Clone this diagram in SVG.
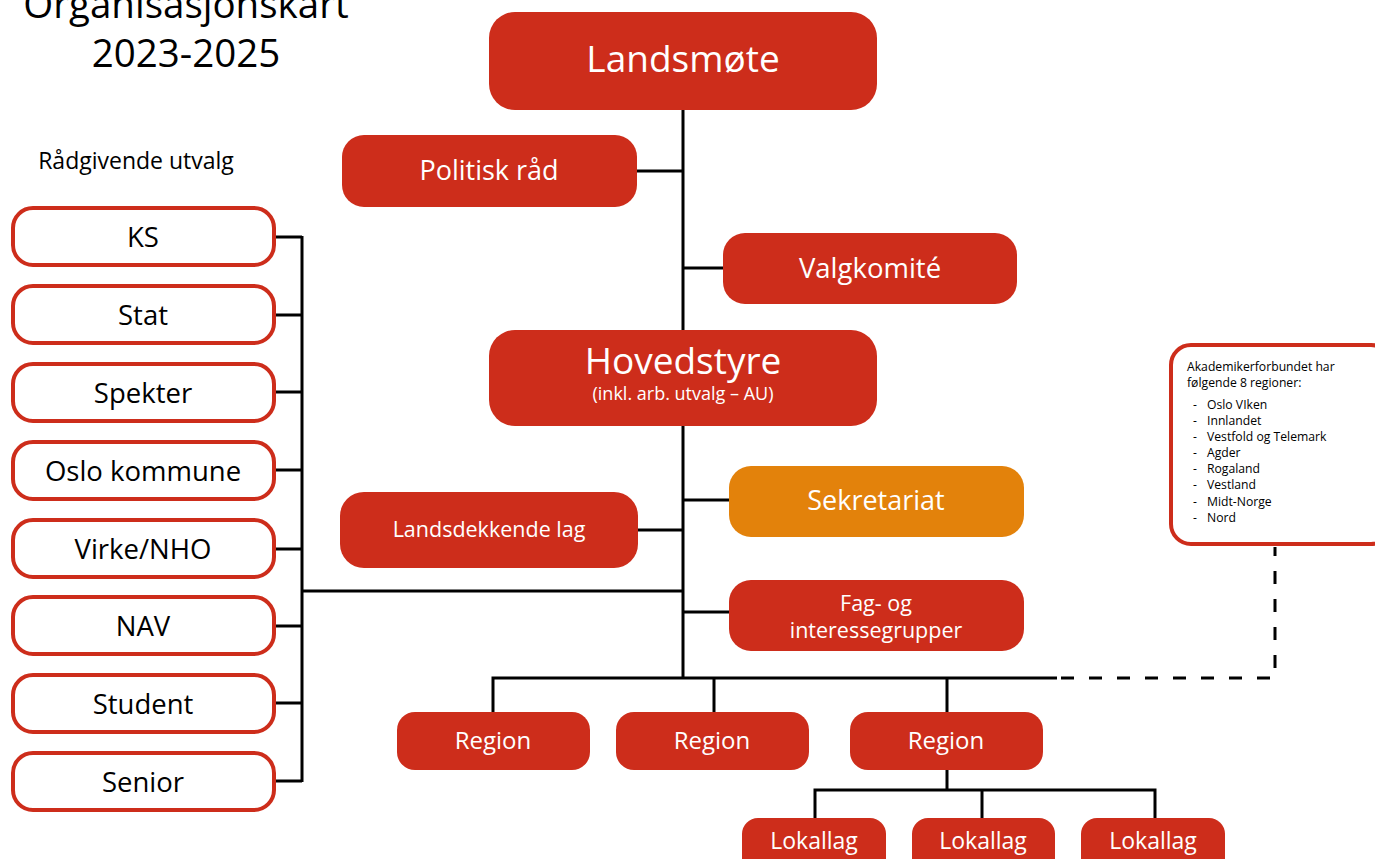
<svg xmlns="http://www.w3.org/2000/svg" width="1375" height="859" viewBox="0 0 1375 859">
<style>
.red{fill:#CD2D1B}
.org{fill:#E3820B}
.wbox{fill:#fff;stroke:#CD2D1B;stroke-width:4}
.t{font-family:"Open Sans","Noto Sans",sans-serif;text-anchor:middle}
.w{fill:#fff}
.k{fill:#000}
.ln{stroke:#000;stroke-width:3;fill:none}
.dash{stroke:#000;stroke-width:3;fill:none;stroke-dasharray:13 15}
.s{font-family:"Open Sans","Noto Sans",sans-serif;font-size:12.2px;fill:#000}
.lb{font-size:27.5px}
</style>
<rect width="1375" height="859" fill="#fff"/>
<g id="title">
<text class="t k" x="186" y="18" font-size="38.5">Organisasjonskart</text>
<text class="t k" x="186" y="67" font-size="38.5">2023-2025</text>
</g>
<text class="t k" x="136" y="169" font-size="23">Rådgivende utvalg</text>
<g id="connectors">
<path class="ln" d="M683 110V678"/>
<path class="ln" d="M637 171H683M683 268H723M683 500H729M638 530H683M683 612H729"/>
<path class="ln" d="M275 237H302M275 315H302M275 392H302M275 470H302M275 549H302M275 626H302M275 703H302M275 781H302M302 236V782M302 591H683"/>
<path class="ln" d="M493 712V678H1057M714 678V712M947 678V712"/>
<path class="ln" d="M947 770V790M815 818V790H1155V818M982 790V818"/>
<path class="dash" d="M1061 678H1275V547"/>
</g>
<g id="landsmote"><rect class="red" x="489" y="12" width="388" height="98" rx="26"/><text class="t w" x="683" y="72" font-size="37">Landsmøte</text></g>
<g id="politisk"><rect class="red" x="342" y="135" width="295" height="72" rx="22"/><text class="t w" x="489" y="180" font-size="27">Politisk råd</text></g>
<g id="valgkomite"><rect class="red" x="723" y="233" width="294" height="71" rx="22"/><text class="t w" x="870" y="278" font-size="27.5">Valgkomité</text></g>
<g id="hovedstyre"><rect class="red" x="489" y="330" width="388" height="96" rx="26"/><text class="t w" x="683" y="374" font-size="37">Hovedstyre</text><text class="t w" x="683" y="400" font-size="18">(inkl. arb. utvalg – AU)</text></g>
<g id="sekretariat"><rect class="org" x="729" y="466" width="295" height="71" rx="22"/><text class="t w" x="876" y="510" font-size="27">Sekretariat</text></g>
<g id="landsdekkende"><rect class="red" x="340" y="492" width="298" height="76" rx="24"/><text class="t w" x="489" y="537" font-size="21.5">Landsdekkende lag</text></g>
<g id="fag"><rect class="red" x="729" y="580" width="295" height="71" rx="22"/><text class="t w" x="876" y="611" font-size="21.5">Fag- og</text><text class="t w" x="876" y="638" font-size="21.5">interessegrupper</text></g>
<g id="region1"><rect class="red" x="397" y="712" width="193" height="58" rx="18"/><text class="t w" x="493" y="749" font-size="24">Region</text></g>
<g id="region2"><rect class="red" x="616" y="712" width="193" height="58" rx="18"/><text class="t w" x="712" y="749" font-size="24">Region</text></g>
<g id="region3"><rect class="red" x="850" y="712" width="193" height="58" rx="18"/><text class="t w" x="946" y="749" font-size="24">Region</text></g>
<g id="lokallag1"><rect class="red" x="742" y="818" width="144" height="60" rx="16"/><text class="t w" x="814" y="849" font-size="23">Lokallag</text></g>
<g id="lokallag2"><rect class="red" x="912" y="818" width="143" height="60" rx="16"/><text class="t w" x="983" y="849" font-size="23">Lokallag</text></g>
<g id="lokallag3"><rect class="red" x="1081" y="818" width="144" height="60" rx="16"/><text class="t w" x="1153" y="849" font-size="23">Lokallag</text></g>
<g id="ks"><rect class="wbox" x="13" y="208" width="261" height="57" rx="20"/><text class="t k lb" x="143" y="247">KS</text></g>
<g id="stat"><rect class="wbox" x="13" y="286" width="261" height="57" rx="20"/><text class="t k lb" x="143" y="325">Stat</text></g>
<g id="spekter"><rect class="wbox" x="13" y="364" width="261" height="57" rx="20"/><text class="t k lb" x="143" y="403">Spekter</text></g>
<g id="oslo"><rect class="wbox" x="13" y="442" width="261" height="57" rx="20"/><text class="t k lb" x="143" y="481">Oslo kommune</text></g>
<g id="virke"><rect class="wbox" x="13" y="520" width="261" height="57" rx="20"/><text class="t k lb" x="143" y="559">Virke/NHO</text></g>
<g id="nav"><rect class="wbox" x="13" y="597" width="261" height="57" rx="20"/><text class="t k lb" x="143" y="636">NAV</text></g>
<g id="student"><rect class="wbox" x="13" y="675" width="261" height="57" rx="20"/><text class="t k lb" x="143" y="714">Student</text></g>
<g id="senior"><rect class="wbox" x="13" y="753" width="261" height="57" rx="20"/><text class="t k lb" x="143" y="792">Senior</text></g>
<g id="regioner">
<rect class="wbox" x="1171" y="345" width="220" height="199" rx="20"/>
<text class="s" x="1187" y="371">Akademikerforbundet har</text>
<text class="s" x="1187" y="387">følgende 8 regioner:</text>
<g class="s">
<text x="1193" y="409">-</text><text x="1207" y="409">Oslo VIken</text>
<text x="1193" y="425">-</text><text x="1207" y="425">Innlandet</text>
<text x="1193" y="441">-</text><text x="1207" y="441">Vestfold og Telemark</text>
<text x="1193" y="457">-</text><text x="1207" y="457">Agder</text>
<text x="1193" y="473">-</text><text x="1207" y="473">Rogaland</text>
<text x="1193" y="489">-</text><text x="1207" y="489">Vestland</text>
<text x="1193" y="506">-</text><text x="1207" y="506">Midt-Norge</text>
<text x="1193" y="522">-</text><text x="1207" y="522">Nord</text>
</g>
</g>
</svg>
